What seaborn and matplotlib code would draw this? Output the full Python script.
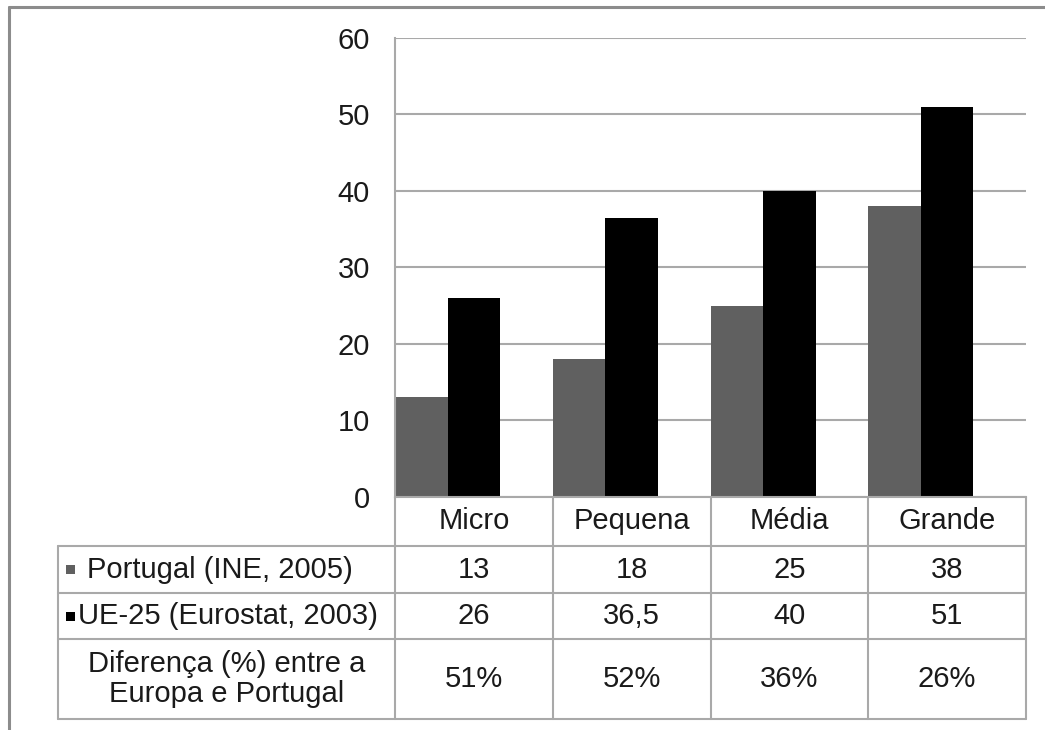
import matplotlib
matplotlib.use("Agg")
import matplotlib.pyplot as plt
import matplotlib.transforms as mtransforms
from matplotlib.patches import Rectangle
from matplotlib.lines import Line2D
import seaborn as sns
import pandas as pd

# ---- data ----
categories = ["Micro", "Pequena", "Média", "Grande"]
series_names = ["Portugal (INE, 2005)", "UE-25 (Eurostat, 2003)"]
portugal = [13, 18, 25, 38]
ue25 = [26, 36.5, 40, 51]
portugal_labels = ["13", "18", "25", "38"]
ue25_labels = ["26", "36,5", "40", "51"]
diff_labels = ["51%", "52%", "36%", "26%"]
diff_row_label = "Diferença (%) entre a\nEuropa e Portugal"
yticks = [0, 10, 20, 30, 40, 50, 60]

colors = {series_names[0]: "#606060", series_names[1]: "#000000"}

df = pd.DataFrame({
    "cat": categories * 2,
    "series": [series_names[0]] * 4 + [series_names[1]] * 4,
    "value": portugal + ue25,
})

sns.set_theme(style="white")
plt.rcParams["font.family"] = ["Liberation Sans", "DejaVu Sans"]

W, H = 1045, 730
fig = plt.figure(figsize=(W / 100, H / 100), dpi=100)
fig.patch.set_facecolor("white")

def fx(px):
    return px / W

def fy(py):
    return (H - py) / H

ax_left, ax_right, ax_top, ax_bottom = 395, 1026, 38, 496.7
ax = fig.add_axes([fx(ax_left), fy(ax_bottom), fx(ax_right) - fx(ax_left), fy(ax_top) - fy(ax_bottom)])

GW = 2 / 3  # total group width per category
sns.barplot(data=df, x="cat", y="value", hue="series", order=categories,
            hue_order=series_names, palette=colors, saturation=1,
            width=GW, linewidth=0, legend=False, ax=ax)

ax.set_xlim(-GW / 2, len(categories) - GW / 2)
ax.set_ylim(0, 60)
ax.set_yticks(yticks)
ax.set_yticklabels([str(t) for t in yticks], fontsize=21, color="#1a1a1a")
ax.tick_params(axis="y", length=0, pad=18)
ax.tick_params(axis="x", length=0, labelbottom=False)
ax.set_xlabel("")
ax.set_ylabel("")
ax.yaxis.grid(True, color="#a9a9a9", linewidth=1.5)
ax.set_axisbelow(True)
for s in ["top", "right"]:
    ax.spines[s].set_visible(False)
for s in ["left", "bottom"]:
    ax.spines[s].set_color("#a9a9a9")
    ax.spines[s].set_linewidth(1.5)

# ---- data table below ----
tr = mtransforms.blended_transform_factory(ax.transData, fig.transFigure)
line_kw = dict(color="#a9a9a9", linewidth=1.5)
fs = 21
tcol = "#1a1a1a"

row_tops = [496.7, 546, 593.3, 639.3, 719.3]
col_bounds = [i - GW / 2 for i in range(len(categories) + 1)]
table_left = 58

# vertical column lines
for xb in col_bounds:
    fig.add_artist(Line2D([xb, xb], [fy(row_tops[0]), fy(row_tops[-1])], transform=tr, **line_kw))
# left border of row header column
fig.add_artist(Line2D([fx(table_left), fx(table_left)], [fy(row_tops[1]), fy(row_tops[-1])],
                      transform=fig.transFigure, **line_kw))
# horizontal row lines
for ry in row_tops[1:]:
    fig.add_artist(Line2D([fx(table_left), fx(ax_right)], [fy(ry), fy(ry)],
                          transform=fig.transFigure, **line_kw))

centers = [(row_tops[i] + row_tops[i + 1]) / 2 for i in range(4)]
for i, cat in enumerate(categories):
    fig.text(i + 0.5 - GW / 2, fy(centers[0]), cat, transform=tr, ha="center", va="center", fontsize=fs, color=tcol)
    fig.text(i + 0.5 - GW / 2, fy(centers[1]), portugal_labels[i], transform=tr, ha="center", va="center", fontsize=fs, color=tcol)
    fig.text(i + 0.5 - GW / 2, fy(centers[2]), ue25_labels[i], transform=tr, ha="center", va="center", fontsize=fs, color=tcol)
    fig.text(i + 0.5 - GW / 2, fy(centers[3]), diff_labels[i], transform=tr, ha="center", va="center", fontsize=fs, color=tcol)

# row headers with legend keys
sq = 9
for r, (name, tx) in enumerate(zip(series_names, [87, 78])):
    cy = centers[r + 1]
    fig.add_artist(Rectangle((fx(66), fy(cy + sq / 2)), sq / W, sq / H,
                             transform=fig.transFigure, color=colors[name], linewidth=0))
    fig.text(fx(tx), fy(cy), name, ha="left", va="center", fontsize=fs, color=tcol)

fig.text(fx((table_left + ax_left) / 2), fy(centers[3]), diff_row_label, ha="center", va="center",
         multialignment="center", fontsize=fs, color=tcol, linespacing=1.1)

# outer chart border (top and left)
border_kw = dict(color="#8c8c8c", linewidth=2.2)
fig.add_artist(Line2D([fx(9), 1], [fy(7), fy(7)], transform=fig.transFigure, **border_kw))
fig.add_artist(Line2D([fx(9), fx(9)], [fy(7), 0], transform=fig.transFigure, **border_kw))

fig.savefig("out.png", dpi=100, facecolor="white")
